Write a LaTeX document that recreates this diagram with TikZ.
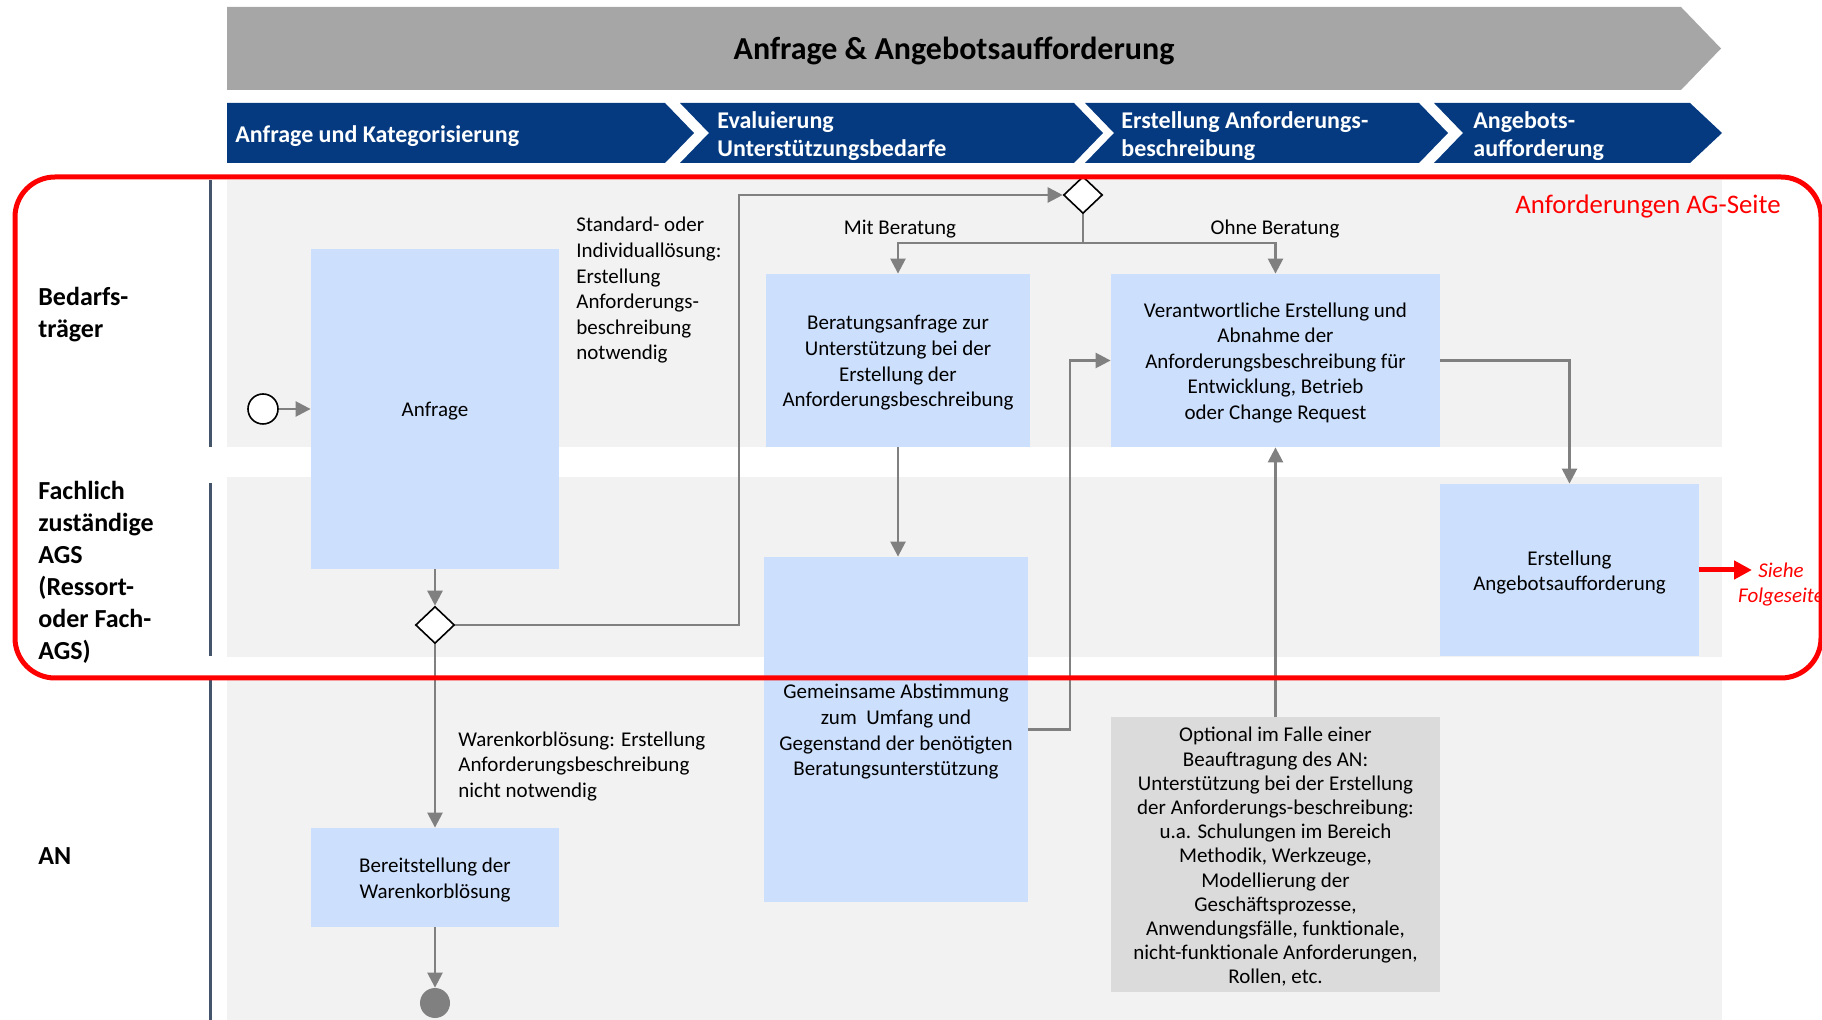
\documentclass[tikz,border=0pt]{standalone}
\usepackage{fontspec}
\setmainfont{Carlito}
\usetikzlibrary{arrows.meta,shapes.geometric,calc}

\definecolor{bannergray}{HTML}{A6A6A6}
\definecolor{phaseblue}{HTML}{053A80}
\definecolor{lanebg}{HTML}{F2F2F2}
\definecolor{laneline}{HTML}{44546A}
\definecolor{boxblue}{HTML}{CCE0FD}
\definecolor{boxgray}{HTML}{DBDBDB}
\definecolor{conngray}{HTML}{808080}
\definecolor{hlred}{HTML}{FF0000}

\newcommand{\txtbox}{\fontsize{10.5}{12.8}\selectfont}
\newcommand{\txtopt}{\fontsize{10.5}{12.1}\selectfont}
\newcommand{\txtlane}{\fontsize{13}{16}\selectfont\bfseries}
\newcommand{\txtphase}{\fontsize{12}{14}\selectfont\bfseries}
\newcommand{\txttitle}{\fontsize{16}{19}\selectfont\bfseries}

\begin{document}
\begin{tikzpicture}[x=0.5pt,y=-0.5pt,
  txtshift/.style={yshift=-1.2pt},
  actbox/.style={fill=boxblue, draw=none, inner sep=0pt},
  optbox/.style={fill=boxgray, draw=none, inner sep=0pt},
  boxtext/.style={font=\txtbox, align=center, inner sep=0pt, txtshift},
  phase/.style={text=white, font=\txtphase, align=left, inner sep=0pt, anchor=west, txtshift},
  lanelabel/.style={font=\txtlane, align=left, inner sep=0pt, anchor=west, txtshift},
  note/.style={font=\txtbox, align=left, inner sep=0pt, txtshift},
  gateway/.style={diamond, draw=black, line width=0.8pt, fill=white, minimum width=19.5pt, minimum height=18.5pt, inner sep=0pt},
  conn/.style={draw=conngray, line width=1.25pt, -{Triangle[length=7.5pt,width=7.5pt]}},
  connplain/.style={draw=conngray, line width=1.25pt},
  laneedge/.style={draw=laneline, line width=1.5pt}
]
\useasboundingbox (0,0) rectangle (1822,1020);

% process banner
\fill[bannergray] (227,7) -- (1681,7) -- (1721,48.5) -- (1681,90) -- (227,90) -- cycle;
\node[font=\txttitle, inner sep=0pt, txtshift] (title) at (954,48.5) {Anfrage \& Angebotsaufforderung};

% phase chevrons
\fill[phaseblue] (227,103) -- (665,103) -- (694,133) -- (665,163) -- (227,163) -- cycle;
\fill[phaseblue] (680,103) -- (1074,103) -- (1103,133) -- (1074,163) -- (680,163) -- (709,133) -- cycle;
\fill[phaseblue] (1085,103) -- (1419,103) -- (1448,133) -- (1419,163) -- (1085,163) -- (1114,133) -- cycle;
\fill[phaseblue] (1434,103) -- (1690,103) -- (1722,133) -- (1690,163) -- (1434,163) -- (1463,133) -- cycle;
\node[phase] (ph1) at (235,134) {Anfrage und Kategorisierung};
\node[phase] (ph2) at (717,134) {Evaluierung\\Unterstützungsbedarfe};
\node[phase] (ph3) at (1121,134) {Erstellung Anforderungs-\\beschreibung};
\node[phase] (ph4) at (1473,134) {Angebots-\\aufforderung};

% swimlanes
\fill[lanebg] (227,180) rectangle (1722,447);
\fill[lanebg] (227,477) rectangle (1722,657);
\fill[lanebg] (227,680) rectangle (1722,1020);
\draw[laneedge] (210,180) -- (210,447);
\draw[laneedge] (210,483) -- (210,656);
\draw[laneedge] (210,680) -- (210,1020);
\node[lanelabel] (lane1) at (38,312) {Bedarfs-\\träger};
\node[lanelabel] (lane2) at (38,570) {Fachlich\\zuständige\\AGS\\(Ressort-\\oder Fach-\\AGS)};
\node[lanelabel] (lane3) at (38,854) {AN};

% activities (box, then its centred text)
\node[actbox, minimum width=124pt, minimum height=160pt] (anfrage) at (435,409) {};
\node[boxtext] (anfrage-t) at (anfrage.center) {Anfrage};
\node[actbox, minimum width=132pt, minimum height=86.5pt] (berat) at (898,360.5) {};
\node[boxtext] (berat-t) at (berat.center)
  {Beratungsanfrage zur\\Unterstützung bei der\\Erstellung der\\Anforderungsbeschreibung};
\node[actbox, minimum width=164.5pt, minimum height=86.5pt] (verant) at (1275.5,360.5) {};
\node[boxtext] (verant-t) at (verant.center)
  {Verantwortliche Erstellung und\\Abnahme der\\Anforderungsbeschreibung für\\Entwicklung, Betrieb\\oder Change Request};
\node[actbox, minimum width=129.5pt, minimum height=86pt] (angebot) at (1569.5,570) {};
\node[boxtext] (angebot-t) at (angebot.center) {Erstellung\\Angebotsaufforderung};
\node[actbox, minimum width=132pt, minimum height=172.5pt] (gemein) at (896,729.5) {};
\node[boxtext] (gemein-t) at (gemein.center)
  {Gemeinsame Abstimmung\\zum\ \ Umfang und\\Gegenstand der benötigten\\Beratungsunterstützung};
\node[optbox, minimum width=164.5pt, minimum height=137.5pt] (optional) at (1275.5,854.5) {};
\node[boxtext, font=\txtopt] (optional-t) at (optional.center)
  {Optional im Falle einer\\Beauftragung des AN:\\Unterstützung bei der Erstellung\\der Anforderungs-beschreibung:\\u.a. Schulungen im Bereich\\Methodik, Werkzeuge,\\Modellierung der\\Geschäftsprozesse,\\Anwendungsfälle, funktionale,\\nicht-funktionale Anforderungen,\\Rollen, etc.};
\node[actbox, minimum width=124pt, minimum height=49.5pt] (bereit) at (435,877.5) {};
\node[boxtext] (bereit-t) at (bereit.center) {Bereitstellung der\\Warenkorblösung};

% events and gateways
\node[circle, draw=black, line width=0.8pt, fill=white, minimum size=15pt, inner sep=0pt] (start) at (263,409) {};
\node[circle, fill=conngray, minimum size=15pt, inner sep=0pt] (end) at (435,1003) {};
\node[gateway] (g1) at (435,625) {};
\node[gateway] (g2) at (1083,195) {};

% labels on flows
\node[note, anchor=west] (lblstd) at (576,288)
  {Standard- oder\\Individuallösung:\\Erstellung\\Anforderungs-\\beschreibung\\notwendig};
\node[note] (lblmit) at (900,227) {Mit Beratung};
\node[note] (lblohne) at (1275,227) {Ohne Beratung};
\node[note, anchor=west] (lblwk) at (458,764)
  {Warenkorblösung: Erstellung\\Anforderungsbeschreibung\\nicht notwendig};

% sequence flows
\coordinate (up) at (739,195);
\coordinate (split) at (1083,243);
\coordinate (back) at (1070,729.5);
\coordinate (redend) at (1752,570);

\draw[conn] (start) -- (anfrage.west);
\draw[conn] (anfrage.south) -- (g1.north);
\draw[conn] (g1.east) -| (up) -- (g2.west);
\draw[connplain] (g2.south) -- (split);
\draw[conn] (split) -| (berat.north);
\draw[conn] (split) -| (verant.north);
\draw[conn] (berat.south) -- (berat.south |- gemein.north);
\draw[conn] (gemein.east) -- (back) |- (verant.west);
\draw[conn] (optional.north) -- (verant.south);
\draw[conn] (verant.east) -| (angebot.north);
\draw[conn] (g1.south) -- (bereit.north);
\draw[conn] (bereit.south) -- (end.north);

% continuation to the next page
\draw[hlred, line width=2.5pt, -{Triangle[length=9pt,width=9pt]}] (angebot.east) -- (redend);
\node[text=hlred, font=\txtbox\itshape, align=center, inner sep=0pt, txtshift] (next) at (1781,582) {Siehe\\Folgeseite};

% highlighted requirement area
\draw[hlred, line width=2.5pt, rounded corners=20pt] (15,177) rectangle (1821,678);
\node[text=hlred, font=\fontsize{13.4}{16}\selectfont, anchor=east, inner sep=0pt, txtshift] (aglabel) at (1781,204) {Anforderungen AG-Seite};
\end{tikzpicture}
\end{document}
